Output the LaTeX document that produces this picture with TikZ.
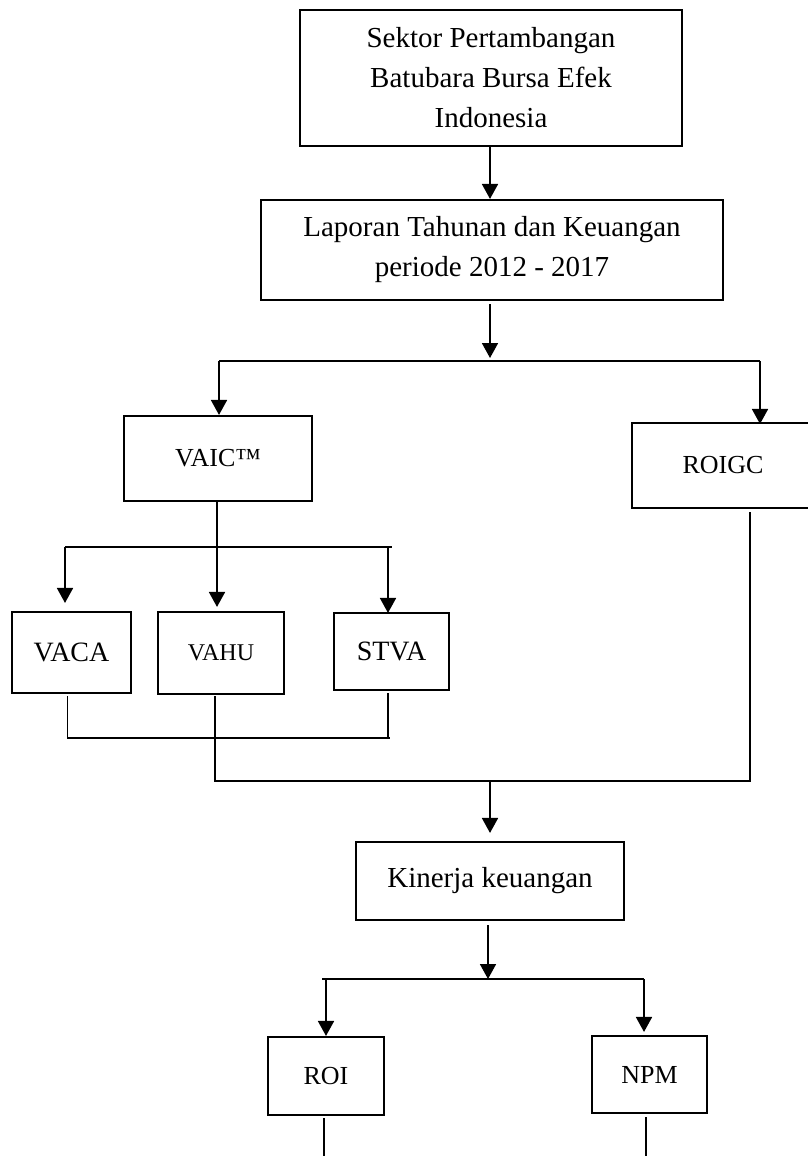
\documentclass[tikz,border=0pt]{standalone}
\usepackage{fontspec}
\setmainfont{Liberation Serif}
\usetikzlibrary{arrows.meta,calc}
\newcommand\txtbig{\fontsize{29}{40}\selectfont}
\newcommand\txtsmall{\fontsize{26}{30}\selectfont}
\newcommand\txtmid{\fontsize{28}{30}\selectfont}
\newcommand\txtvahu{\fontsize{24}{28}\selectfont}
\begin{document}
\begin{tikzpicture}[x=1pt,y=-1pt,
  box/.style={draw,line width=2.1pt,rectangle,inner sep=0pt,align=center},
  conn/.style={line width=1.8pt},
  arr/.style={conn,-{Triangle[length=15pt,width=16pt]}}]
\useasboundingbox (0,0) rectangle (808,1156);
% boxes
\node[box,minimum width=382pt,minimum height=136pt,font=\txtbig] (top) at (491,78) {Sektor Pertambangan\\Batubara Bursa Efek\\Indonesia};
\node[box,minimum width=462pt,minimum height=100pt,font=\txtbig] (lap) at (492,250) {Laporan Tahunan dan Keuangan\\periode 2012 - 2017};
\node[box,minimum width=188pt,minimum height=85pt,font=\txtsmall] (vaic) at (218,458.5) {VAIC™};
\node[box,minimum width=182pt,minimum height=85pt,font=\txtsmall] (roigc) at (723,465.5) {ROIGC};
\node[box,minimum width=119pt,minimum height=81pt,font=\txtmid] (vaca) at (71.5,652.5) {VACA};
\node[box,minimum width=126pt,minimum height=82pt,font=\txtvahu] (vahu) at (221,653) {VAHU};
\node[box,minimum width=115pt,minimum height=77pt,font=\txtmid] (stva) at (391.5,651.5) {STVA};
\node[box,minimum width=268pt,minimum height=78pt,font=\txtbig] (kin) at (490,881) {Kinerja keuangan};
\node[box,minimum width=116pt,minimum height=78pt,font=\txtsmall] (roi) at (326,1076) {ROI};
\node[box,minimum width=115pt,minimum height=77pt,font=\txtsmall] (npm) at (649.5,1074.5) {NPM};
% junction coordinates
\coordinate (j0) at (490,200);
\coordinate (j1) at (490,361);
\coordinate (j1l) at (219,361);
\coordinate (j1r) at (760,361);
\coordinate (j2l) at (65,547);
\coordinate (j2r) at (392,547);
\coordinate (j2v) at (217,547);
\coordinate (j2s) at (388,547);
\coordinate (j3l) at (67.5,738);
\coordinate (j3r) at (390,738);
\coordinate (j3s) at (388,738);
\coordinate (j4l) at (215,781);
\coordinate (j4r) at (750,781);
\coordinate (j4) at (490,781);
\coordinate (j5) at (488,979);
\coordinate (j5l) at (322,979);
\coordinate (j5r) at (644,979);
\coordinate (j5a) at (326,979);
\coordinate (e1) at (324,1160);
\coordinate (e2) at (646,1160);
% connectors
\draw[arr] (top.south -| j0) -- (lap.north -| j0);
\draw[arr,shorten <=3pt,shorten >=3pt] (lap.south -| j1) -- (j1);
\draw[conn] (j1l) -- (j1r);
\draw[arr] (j1l) -- (vaic.north -| j1l);
\draw[arr,shorten >=-2pt] (j1r) -- (roigc.north -| j1r);
\draw[conn] (j2l) -- (j2r);
\draw[arr,shorten >=8pt] (j2l) -- (vaca.north -| j2l);
\draw[arr,shorten >=4pt] (vaic.south -| j2v) -- (vahu.north -| j2v);
\draw[arr,shorten >=-1pt] (j2s) -- (stva.north -| j2s);
\draw[conn,shorten <=2pt] (vaca.south -| j3l) -- (j3l) -- (j3r);
\draw[conn,shorten <=2pt] (stva.south -| j3s) -- (j3s);
\draw[conn,shorten <=1pt] (vahu.south -| j4l) -- (j4l) -- (j4r) -- ([yshift=-3pt]roigc.south -| j4r);
\draw[arr,shorten >=8pt] (j4) -- (kin.north -| j4);
\draw[arr,shorten <=4pt] (kin.south -| j5) -- (j5);
\draw[conn] (j5l) -- (j5r);
\draw[arr] (j5a) -- (roi.north -| j5a);
\draw[arr,shorten >=3pt] (j5r) -- (npm.north -| j5r);
\draw[conn,shorten <=2pt] (roi.south -| e1) -- (e1);
\draw[conn,shorten <=3pt] (npm.south -| e2) -- (e2);
\end{tikzpicture}
\end{document}
